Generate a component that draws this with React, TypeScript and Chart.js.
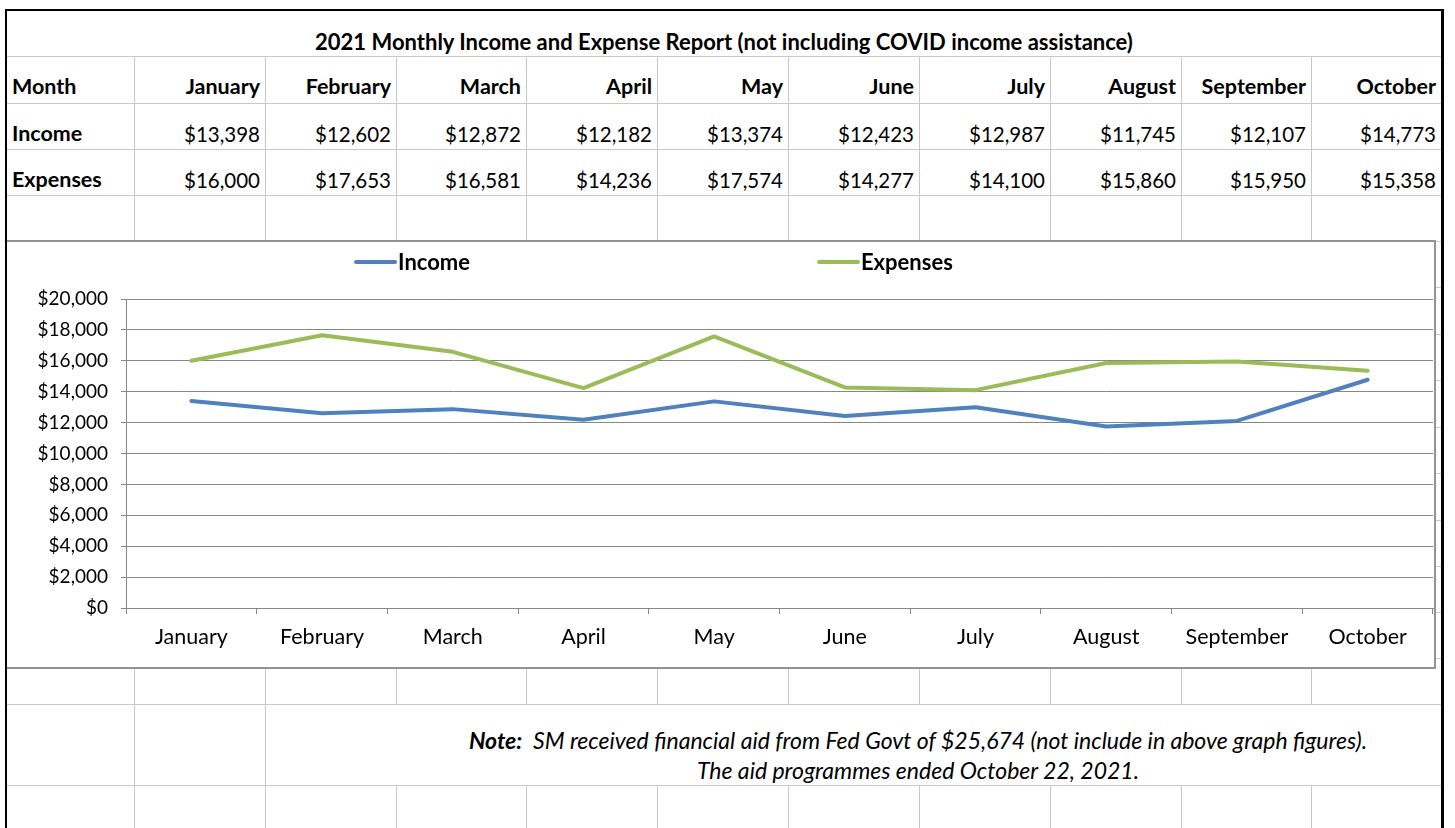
import React, { useEffect, useRef } from "react";
import { Chart, registerables } from "chart.js";

Chart.register(...registerables);

// ---------- data ----------
const months = [
  "January",
  "February",
  "March",
  "April",
  "May",
  "June",
  "July",
  "August",
  "September",
  "October",
];
const income = [13398, 12602, 12872, 12182, 13374, 12423, 12987, 11745, 12107, 14773];
const expenses = [16000, 17653, 16581, 14236, 17574, 14277, 14100, 15860, 15950, 15358];
const seriesNames = ["Income", "Expenses"];
const seriesColors = ["#4F81BD", "#9BBB59"];
const yMin = 0;
const yMax = 20000;
const yStep = 2000;
const reportTitle =
  "2021 Monthly Income and Expense Report (not including COVID income assistance)";
const rowHeaders = ["Month", "Income", "Expenses"];
const noteLead = "Note:";
const noteLine1 = "SM received financial aid from Fed Govt of $25,674 (not include in above graph figures).";
const noteLine2 = "The aid programmes ended October 22, 2021.";

const money = (v: number) => "$" + v.toLocaleString("en-US");

// ---------- layout (sheet geometry) ----------
const FONT = "Lato, 'Open Sans', sans-serif";
const colLines = [134, 265, 396, 526, 657, 788, 919, 1050, 1181, 1311];
const colEdges = [7, ...colLines, 1441];
const rowLines = [56, 103, 149, 195, 241, 287, 334, 380, 427, 473, 520, 566, 612, 658, 704, 785];
const GRID = "#c8c8c8";

type TextProps = {
  x: number;
  base: number;
  text: string;
  align?: "left" | "right" | "center";
  size?: number;
  bold?: boolean;
  italic?: boolean;
  children?: React.ReactNode;
};

function SheetText({ x, base, text, align = "left", size = 20, bold, italic, children }: TextProps) {
  const top = base - size * 0.887;
  const style: React.CSSProperties = {
    position: "absolute",
    top,
    lineHeight: `${size}px`,
    fontSize: size,
    fontFamily: FONT,
    fontWeight: bold ? 700 : 400,
    fontStyle: italic ? "italic" : "normal",
    whiteSpace: "pre",
    color: "#000",
  };
  if (align === "left") style.left = x;
  else if (align === "right") {
    style.right = 1455 - x;
    style.textAlign = "right";
  } else {
    style.left = x - 1000;
    style.width = 2000;
    style.textAlign = "center";
  }
  return <div style={style}>{children ?? text}</div>;
}

const legendPlugin = {
  id: "sheetLegend",
  afterDraw(chart: any) {
    const ctx = chart.ctx as CanvasRenderingContext2D;
    const w = chart.width;
    const starts = [0.2432, 0.5676];
    const y = 20;
    ctx.save();
    ctx.font = `bold 22px ${FONT}`;
    ctx.textBaseline = "middle";
    chart.data.datasets.forEach((ds: any, i: number) => {
      const x0 = w * starts[i];
      ctx.strokeStyle = ds.borderColor;
      ctx.lineWidth = 4;
      ctx.lineCap = "round";
      ctx.beginPath();
      ctx.moveTo(x0 + 2, y);
      ctx.lineTo(x0 + 41, y);
      ctx.stroke();
      ctx.fillStyle = "#000";
      ctx.fillText(ds.label, x0 + 44, y + 1);
    });
    ctx.restore();
  },
};

function LineChart() {
  const ref = useRef<HTMLCanvasElement | null>(null);
  useEffect(() => {
    if (!ref.current) return;
    const series = [income, expenses];
    const chart = new Chart(ref.current, {
      type: "line",
      data: {
        labels: months,
        datasets: series.map((d, i) => ({
          label: seriesNames[i],
          data: d,
          borderColor: seriesColors[i],
          backgroundColor: seriesColors[i],
          borderWidth: 4,
          pointRadius: 0,
          tension: 0,
          borderCapStyle: "round",
          borderJoinStyle: "round",
          fill: false,
        })),
      },
      options: {
        animation: false,
        responsive: false,
        devicePixelRatio: 1,
        layout: { padding: { top: 57, right: 1, left: 0, bottom: 0 } },
        plugins: {
          legend: { display: false },
          tooltip: { enabled: false },
          title: { display: false },
        },
        scales: {
          x: {
            type: "category",
            offset: true,
            grid: {
              display: true,
              drawOnChartArea: false,
              drawTicks: true,
              tickLength: 6,
              offset: true,
              color: "#868686",
            },
            border: { display: true, color: "#868686", width: 1 },
            ticks: {
              color: "#000",
              font: { family: FONT, size: 21.5 },
              padding: 10,
              maxRotation: 0,
              autoSkip: false,
            },
            afterFit: (s: any) => {
              s.height = 59;
            },
          },
          y: {
            min: yMin,
            max: yMax,
            grid: { color: "#868686", drawTicks: true, tickLength: 5 },
            border: { display: true, color: "#868686", width: 1 },
            ticks: {
              stepSize: yStep,
              padding: 13,
              color: "#000",
              font: { family: FONT, size: 19 },
              callback: (v: any) => money(Number(v)),
            },
            afterFit: (s: any) => {
              s.width = 119;
            },
          },
        },
      },
      plugins: [legendPlugin],
    });
    return () => chart.destroy();
  }, []);
  return <canvas ref={ref} width={1427} height={425} style={{ display: "block", width: 1427, height: 425 }} />;
}

export default function App() {
  useEffect(() => {
    document.body.style.margin = "0";
  }, []);

  const lines: React.ReactNode[] = [];
  rowLines.forEach((y, i) =>
    lines.push(
      <div key={`h${i}`} style={{ position: "absolute", left: 7, width: 1434, top: y, height: 1, background: GRID }} />
    )
  );
  colLines.forEach((x, i) => {
    if (i < 2) {
      lines.push(
        <div key={`v${i}`} style={{ position: "absolute", left: x, width: 1, top: 56, height: 772, background: GRID }} />
      );
    } else {
      lines.push(
        <div key={`v${i}`} style={{ position: "absolute", left: x, width: 1, top: 56, height: 648, background: GRID }} />
      );
      lines.push(
        <div key={`w${i}`} style={{ position: "absolute", left: x, width: 1, top: 785, height: 43, background: GRID }} />
      );
    }
  });

  const rowBases = [95, 142, 188];
  const cellTexts: React.ReactNode[] = [];
  rowHeaders.forEach((h, r) =>
    cellTexts.push(<SheetText key={`rh${r}`} x={12} base={rowBases[r]} text={h} bold size={21.5} />)
  );
  months.forEach((m, c) => {
    const xr = colEdges[c + 2] - 5;
    cellTexts.push(<SheetText key={`m${c}`} x={xr} base={rowBases[0]} text={m} align="right" bold size={21.5} />);
    cellTexts.push(<SheetText key={`i${c}`} x={xr} base={rowBases[1]} text={money(income[c])} align="right" size={20.5} />);
    cellTexts.push(<SheetText key={`e${c}`} x={xr} base={rowBases[2]} text={money(expenses[c])} align="right" size={20.5} />);
  });

  return (
    <div
      style={{
        position: "absolute",
        left: 0,
        top: 0,
        width: 1455,
        height: 828,
        overflow: "hidden",
        background: "#fff",
      }}
    >
      {lines}
      <div style={{ position: "absolute", left: 5, top: 9, width: 1439, height: 2, background: "#000" }} />
      <div style={{ position: "absolute", left: 5, top: 9, width: 2, height: 819, background: "#000" }} />
      <div style={{ position: "absolute", left: 1441, top: 9, width: 3, height: 819, background: "#000" }} />

      <SheetText x={724} base={51} text={reportTitle} align="center" bold size={22} />
      {cellTexts}

      <div
        style={{
          position: "absolute",
          left: 5,
          top: 240,
          width: 1431,
          height: 429,
          boxSizing: "border-box",
          border: "2px solid #939393",
          background: "#fff",
        }}
      >
        <LineChart />
      </div>
      <div style={{ position: "absolute", left: 5, top: 240, width: 2, height: 429, background: "#000" }} />

      <SheetText x={918} base={749} text="" align="center" italic size={23}>
        <b>{noteLead}</b>
        {"  " + noteLine1}
      </SheetText>
      <SheetText x={918} base={779} text={noteLine2} align="center" italic size={23} />
    </div>
  );
}
